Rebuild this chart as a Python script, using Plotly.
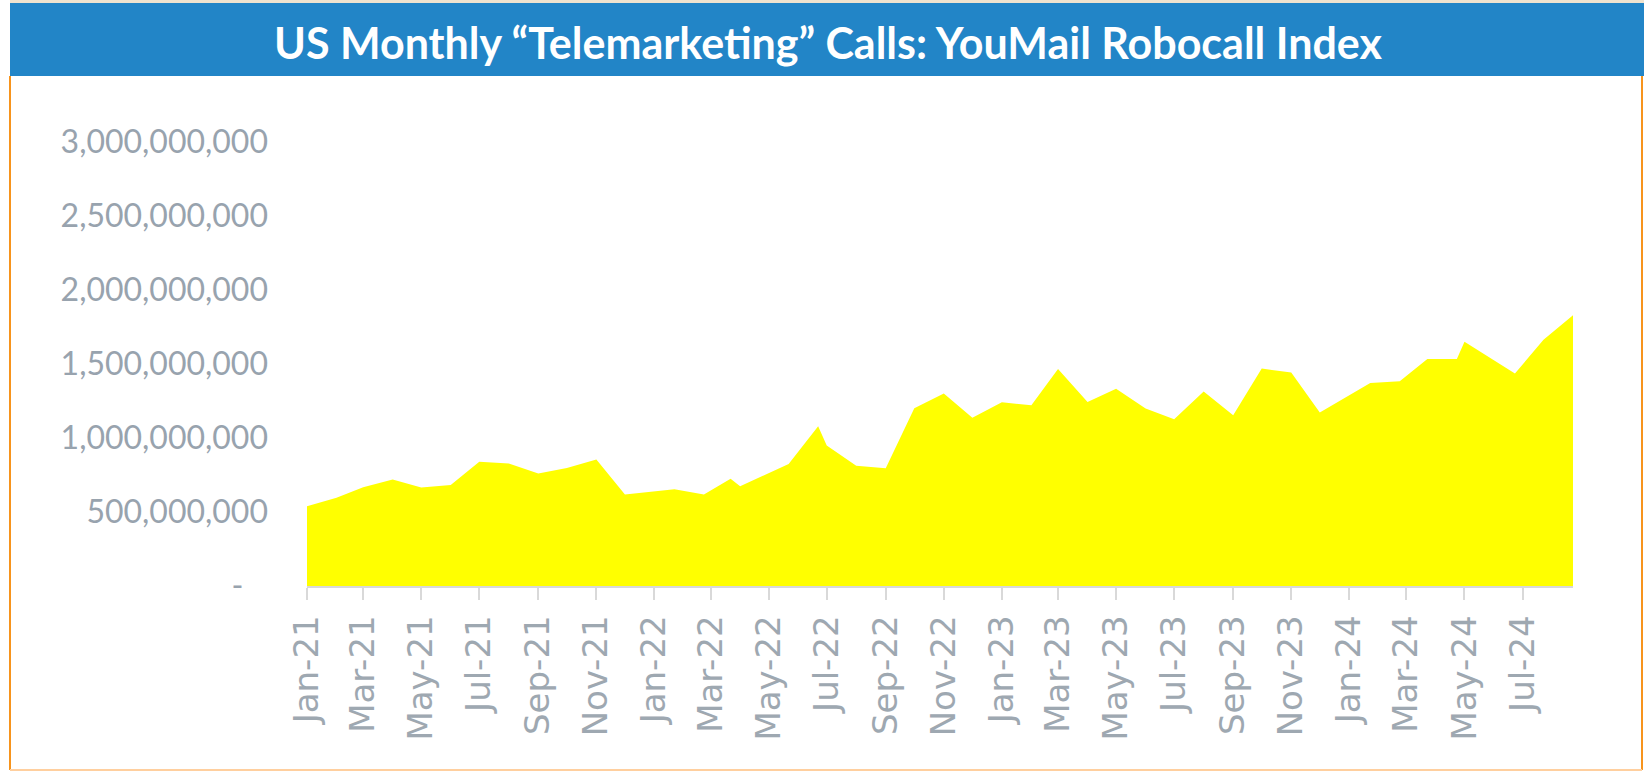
import plotly.graph_objects as go

# ---- data ----
dates = [
    "2021-01-01", "2021-02-01", "2021-03-01", "2021-04-01", "2021-05-01", "2021-06-01",
    "2021-07-01", "2021-08-01", "2021-09-01", "2021-10-01", "2021-11-01", "2021-12-01",
    "2022-01-22", "2022-02-22", "2022-03-22", "2022-04-01", "2022-05-22", "2022-06-22",
    "2022-07-01", "2022-08-01", "2022-09-01", "2022-10-01", "2022-11-01", "2022-12-01",
    "2023-01-01", "2023-02-01", "2023-03-01", "2023-04-01", "2023-05-01", "2023-06-01",
    "2023-07-01", "2023-08-01", "2023-09-01", "2023-10-01", "2023-11-01", "2023-12-01",
    "2024-01-23", "2024-02-23", "2024-03-23", "2024-04-23", "2024-05-01", "2024-06-23",
    "2024-07-23", "2024-08-23",
]
calls = [
    539e6, 596e6, 667e6, 719e6, 665e6, 683e6,
    839e6, 827e6, 760e6, 798e6, 854e6, 618e6,
    654e6, 618e6, 724e6, 674e6, 825e6, 1079e6,
    949e6, 812e6, 795e6, 1201e6, 1300e6, 1136e6,
    1241e6, 1221e6, 1467e6, 1244e6, 1332e6, 1199e6,
    1126e6, 1315e6, 1153e6, 1469e6, 1442e6, 1172e6,
    1372e6, 1383e6, 1534e6, 1534e6, 1651e6, 1435e6,
    1664e6, 1829e6,
]
y_tickvals = [0, 500e6, 1000e6, 1500e6, 2000e6, 2500e6, 3000e6]
y_ticktext = ["-\u00a0\u00a0\u00a0", "500,000,000", "1,000,000,000", "1,500,000,000",
              "2,000,000,000", "2,500,000,000", "3,000,000,000"]
title_text = "US Monthly \u201cTelemarketing\u201d Calls: YouMail Robocall Index"

# ---- layout geometry (pixels) ----
W, H = 1644, 771
L, R, T, B = 307, 71, 142, 185
pw, ph = W - L - R, H - T - B


def fx(px):
    return (px - L) / pw


def fy(py):
    return (H - B - py) / ph


fig = go.Figure()
fig.add_trace(go.Scatter(
    x=dates, y=calls, mode="lines", fill="tozeroy",
    line=dict(width=0, color="#FFFF00"), fillcolor="#FFFF00",
    hoverinfo="x+y", showlegend=False,
))

fig.update_layout(
    width=W, height=H,
    margin=dict(l=L, r=R, t=T, b=B, pad=0),
    paper_bgcolor="white", plot_bgcolor="white",
    showlegend=False,
    xaxis=dict(
        type="date",
        range=[dates[0], dates[-1]],
        tick0="2021-01-01", dtick="M2", tickformat="%b-%y",
        tickangle=-90,
        ticks="outside", ticklen=12, tickwidth=1.5, tickcolor="#D9D9D9",
        showline=True, linecolor="#D9D9D9", linewidth=1.5,
        showgrid=False, zeroline=False,
        tickfont=dict(family="DejaVu Sans", size=34, color="#9EA8B1"),
        ticklabelstandoff=2,
    ),
    yaxis=dict(
        range=[0, 3000e6],
        tickmode="array", tickvals=y_tickvals, ticktext=y_ticktext,
        ticks="", showline=False, showgrid=False, zeroline=False,
        tickfont=dict(family="Lato", size=32, color="#98A3AE"),
        ticklabelstandoff=38,
    ),
    shapes=[
        # blue title bar
        dict(type="rect", xref="paper", yref="paper",
             x0=fx(10), x1=fx(1644), y0=fy(76), y1=fy(3),
             fillcolor="#2285C7", line=dict(width=0)),
        # thin beige top line
        dict(type="line", xref="paper", yref="paper",
             x0=fx(10), x1=fx(1644), y0=fy(1.5), y1=fy(1.5),
             line=dict(color="#EFE3CF", width=3)),
        # orange left/right borders
        dict(type="line", xref="paper", yref="paper",
             x0=fx(10), x1=fx(10), y0=fy(76), y1=fy(770),
             line=dict(color="#F7941D", width=2)),
        dict(type="line", xref="paper", yref="paper",
             x0=fx(1642), x1=fx(1642), y0=fy(76), y1=fy(770),
             line=dict(color="#F7941D", width=2)),
        # light orange bottom border
        dict(type="line", xref="paper", yref="paper",
             x0=fx(10), x1=fx(1642), y0=fy(770), y1=fy(770),
             line=dict(color="#FFCF9E", width=2)),
    ],
    annotations=[
        dict(text=title_text, xref="paper", yref="paper",
             x=fx(828), y=fy(42), xanchor="center", yanchor="middle",
             showarrow=False,
             font=dict(family="Lato", size=43, color="white", weight="bold")),
    ],
)

fig.write_html("out.html",
               config={"displayModeBar": False},
               post_script="document.body.style.margin='0';document.body.style.overflow='hidden';")
